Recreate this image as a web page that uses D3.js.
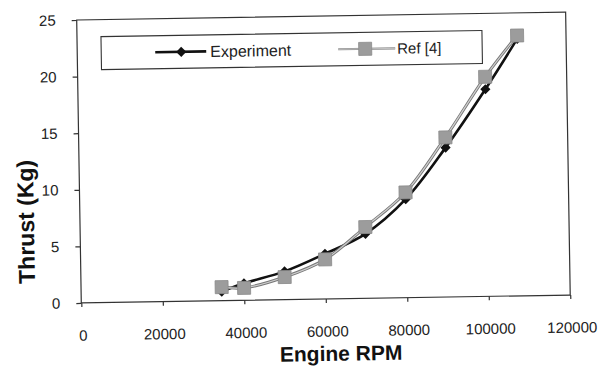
<html>
<head>
<script src="https://d3js.org/d3.v7.min.js"></script>
<style>
  body { margin: 0; background: #fff; }
  text { font-family: "Liberation Sans", Arial, sans-serif; fill: #222; }
  .axis text { font-size: 15px; }
  .axis path, .axis line { stroke: #333; stroke-width: 1.2; }
  .title { font-weight: bold; fill: #111; }
</style>
</head>
<body>
<div id="chart"></div>
<script>
// values
const rpm        = [34500, 40000, 50000, 60000, 70000, 80000, 90000, 100000, 108000];
const experiment = [0.8, 1.5, 2.5, 4.0, 5.7, 8.7, 13.2, 18.3, 22.7];
const ref4       = [1.2, 1.1, 2.0, 3.5, 6.3, 9.3, 14.1, 19.4, 23.0];
const xTicks = [0, 20000, 40000, 60000, 80000, 100000, 120000];
const yTicks = [0, 5, 10, 15, 20, 25];
const seriesNames = ["Experiment", "Ref [4]"];

const w = 609, h = 368;
const padL = 79, padR = 568, padT = 16, padB = 299;

const svg = d3.select('#chart').append('svg')
  .attr('width', w).attr('height', h);

// the scan is slightly tilted
const g = svg.append('g').attr('transform', 'rotate(-0.93,325,160)');

const x = d3.scaleLinear().domain([0, 120000]).range([padL, padR]);
const y = d3.scaleLinear().domain([0, 25]).range([padB, padT]);

// plot frame
g.append('rect')
  .attr('x', padL).attr('y', padT)
  .attr('width', padR - padL).attr('height', padB - padT)
  .attr('fill', 'none').attr('stroke', '#333').attr('stroke-width', 1.2);

const xAxis = g.append('g').attr('class', 'axis')
  .attr('transform', 'translate(0,' + padB + ')')
  .call(d3.axisBottom(x).tickValues(xTicks).tickFormat(d3.format('d'))
    .tickSize(4).tickPadding(23).tickSizeOuter(0));
xAxis.select('.domain').remove();
xAxis.selectAll('text').attr('dy', '0.71em').attr('x', 1);

const yAxis = g.append('g').attr('class', 'axis')
  .attr('transform', 'translate(' + padL + ',0)')
  .call(d3.axisLeft(y).tickValues(yTicks).tickSize(5).tickPadding(16).tickSizeOuter(0));
yAxis.select('.domain').remove();

// series
const line = d3.line().curve(d3.curveCatmullRom.alpha(0.5))
  .x(d => x(d[0])).y(d => y(d[1]));
const expData = rpm.map((r, i) => [r, experiment[i]]);
const refData = rpm.map((r, i) => [r, ref4[i]]);

g.append('path').attr('d', line(expData))
  .attr('fill', 'none').attr('stroke', '#111').attr('stroke-width', 2.6);

g.selectAll('.dia').data(expData).enter().append('path')
  .attr('class', 'dia')
  .attr('transform', d => 'translate(' + x(d[0]) + ',' + y(d[1]) + ') rotate(45)')
  .attr('d', 'M-3.6,-3.6H3.6V3.6H-3.6Z')
  .attr('fill', '#111');

g.append('path').attr('d', line(refData))
  .attr('fill', 'none').attr('stroke', '#777').attr('stroke-width', 3);
g.append('path').attr('d', line(refData))
  .attr('fill', 'none').attr('stroke', '#d0d0d0').attr('stroke-width', 1.2);

g.selectAll('.sq').data(refData).enter().append('rect')
  .attr('class', 'sq')
  .attr('x', d => x(d[0]) - 6.5).attr('y', d => y(d[1]) - 6.5)
  .attr('width', 13).attr('height', 13)
  .attr('fill', '#9c9c9c').attr('stroke', '#8a8a8a').attr('stroke-width', 0.8);

// legend
const lg = g.append('g');
lg.append('rect').attr('x', 103).attr('y', 33).attr('width', 381).attr('height', 33)
  .attr('fill', '#fff').attr('stroke', '#333').attr('stroke-width', 1.1);
const ly = 49.5;
lg.append('line').attr('x1', 157).attr('x2', 208).attr('y1', ly).attr('y2', ly)
  .attr('stroke', '#111').attr('stroke-width', 2.6);
lg.append('path').attr('transform', 'translate(183,' + ly + ') rotate(45)')
  .attr('d', 'M-3.6,-3.6H3.6V3.6H-3.6Z').attr('fill', '#111');
lg.append('text').attr('x', 212).attr('y', ly).attr('dy', '0.36em')
  .style('font-size', '16px').text(seriesNames[0]);

lg.append('line').attr('x1', 340).attr('x2', 397).attr('y1', ly).attr('y2', ly)
  .attr('stroke', '#888').attr('stroke-width', 2.2);
lg.append('line').attr('x1', 340).attr('x2', 397).attr('y1', ly).attr('y2', ly)
  .attr('stroke', '#d0d0d0').attr('stroke-width', 0.8);
lg.append('rect').attr('x', 367 - 6.5).attr('y', ly - 6.5).attr('width', 13).attr('height', 13)
  .attr('fill', '#9c9c9c').attr('stroke', '#8a8a8a').attr('stroke-width', 0.8);
lg.append('text').attr('x', 399).attr('y', ly).attr('dy', '0.36em')
  .style('font-size', '15px').text(seriesNames[1]);

// axis titles
g.append('text').attr('class', 'title')
  .attr('x', 338).attr('y', 361).attr('text-anchor', 'middle')
  .style('font-size', '21px').text('Engine RPM');
g.append('text').attr('class', 'title')
  .attr('transform', 'translate(33,217) rotate(-90)').attr('text-anchor', 'middle')
  .style('font-size', '23px').text('Thrust (Kg)');
</script>
</body>
</html>
